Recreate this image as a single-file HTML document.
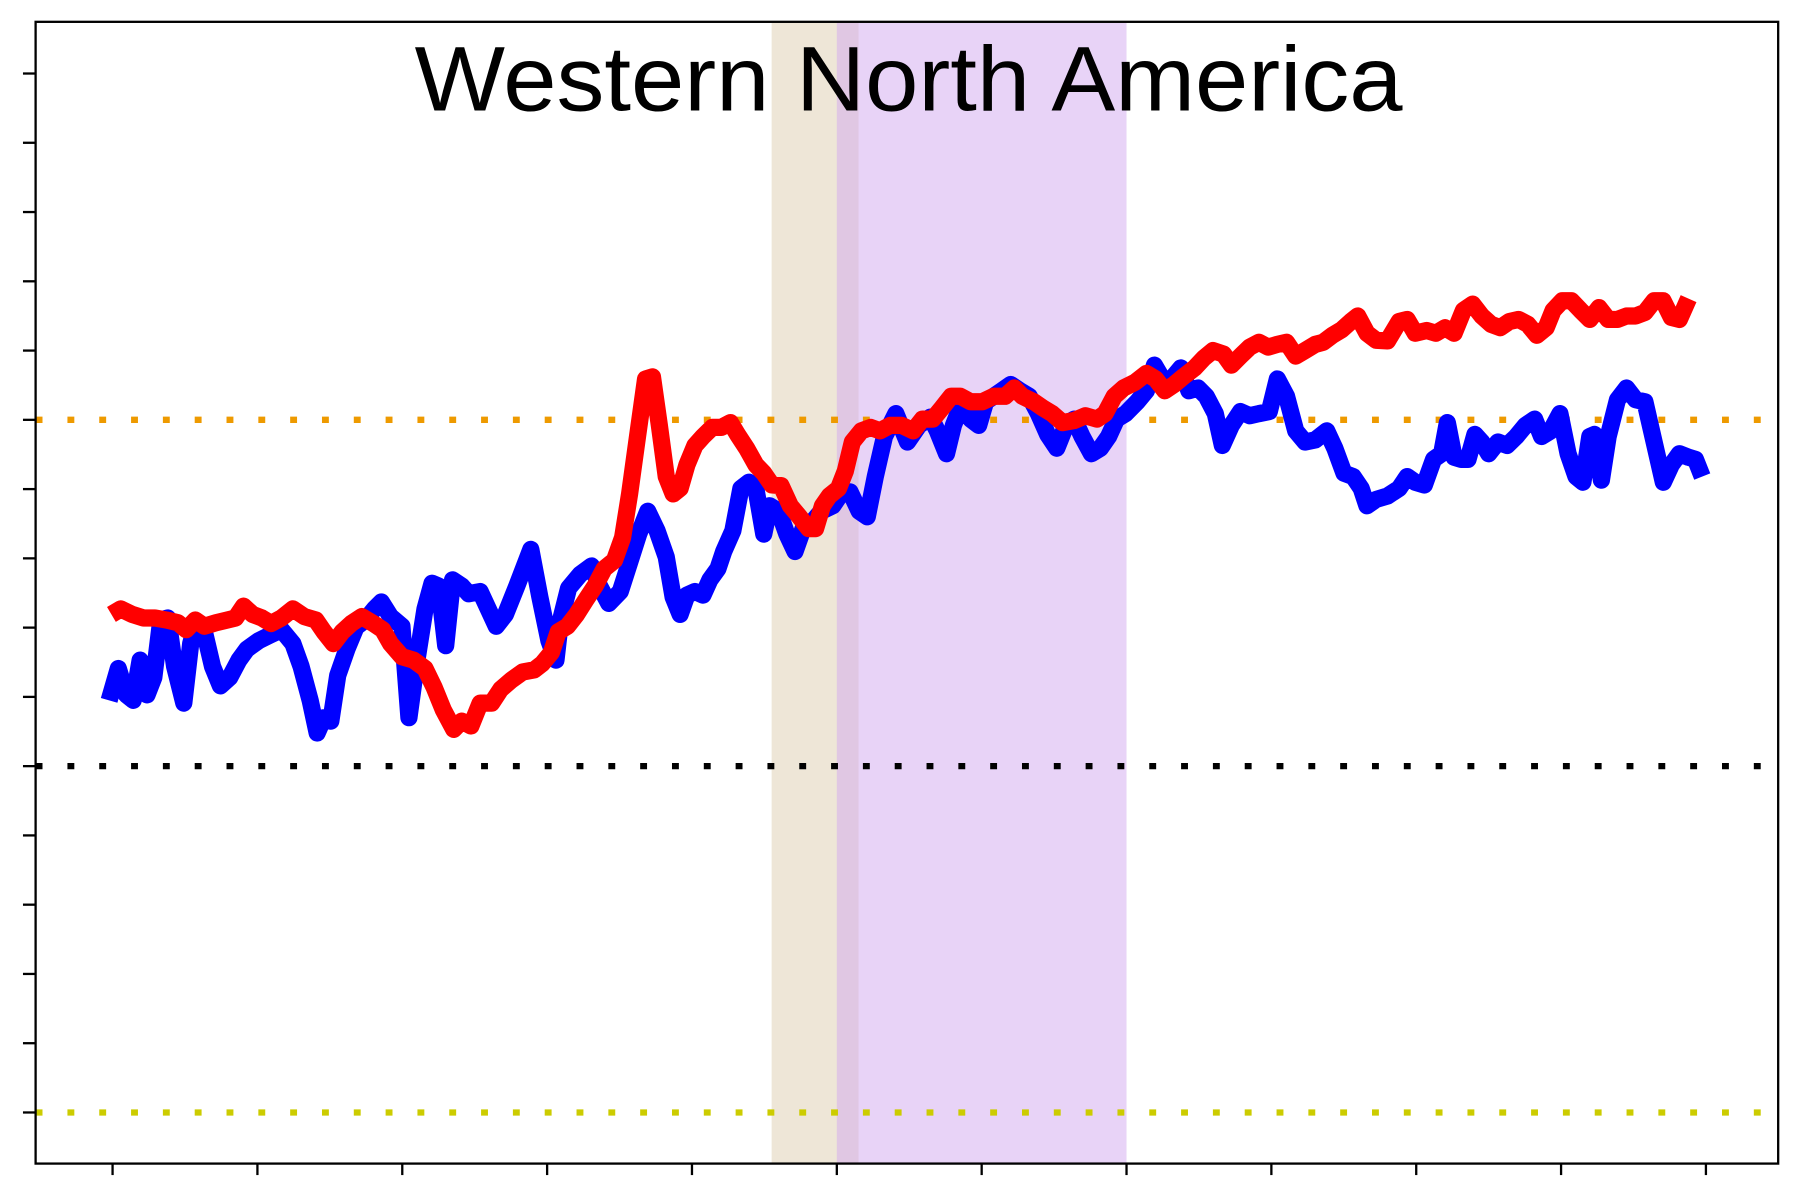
<!DOCTYPE html>
<html><head><meta charset="utf-8"><title>Western North America</title>
<style>html,body{margin:0;padding:0;background:#fff}svg{display:block}</style></head>
<body>
<svg id="chart" width="1800" height="1200" viewBox="0 0 1567 1044.7" preserveAspectRatio="none" xmlns="http://www.w3.org/2000/svg">
<rect x="0" y="0" width="1567" height="1045" fill="#fff"/>
<g id="shade"></g>
<g id="refs"></g>
<g id="series"></g>
<rect x="31" y="19" width="1517" height="994" fill="none" stroke="#000" stroke-width="2"/>
<g id="axes"></g>
<text x="791" y="96" text-anchor="middle" font-family="Liberation Sans, Arial, sans-serif" font-size="80" textLength="860" lengthAdjust="spacingAndGlyphs" fill="#000">Western North America</text>
</svg>
<script>
const xTicks = [0,10,20,30,40,50,60,70,80,90,100,110];
const yTicks = [-5,-4,-3,-2,-1,0,1,2,3,4,5,6,7,8,9,10];
const refValues = [5, 0, -5];
const refColors = ['#ee9a00', '#000000', '#cccc00'];
const shadeStart = [45.5, 50.0];
const shadeEnd = [51.5, 70.0];
const shadeColors = ['rgba(222,206,176,0.5)', 'rgba(210,168,240,0.5)'];

const blueT = [-0.24,0.40,0.95,1.43,1.90,2.38,2.85,3.33,3.81,4.28,4.92,5.39,5.71,6.34,6.90,7.45,8.09,8.72,9.28,10.07,10.86,11.66,12.45,13.01,13.64,14.12,14.59,15.07,15.54,16.18,16.81,17.45,18.08,18.56,19.19,19.98,20.46,20.94,21.57,22.05,22.52,23.00,23.47,24.11,24.58,25.38,25.93,26.49,27.12,27.91,28.87,29.50,30.13,30.61,30.93,31.48,32.28,33.07,33.62,34.26,35.05,35.69,36.32,36.95,37.59,38.22,38.70,39.18,39.65,40.21,40.76,41.24,41.79,42.19,42.82,43.38,43.93,44.41,44.96,45.36,45.99,46.55,47.11,47.74,48.29,48.93,49.72,50.28,50.91,51.55,52.10,52.66,53.29,54.08,54.88,55.67,56.46,56.94,57.57,58.05,58.68,59.24,59.79,60.27,60.83,61.38,62.01,62.65,63.28,63.92,64.55,65.19,65.82,66.38,66.93,67.57,68.20,68.76,69.31,69.94,70.74,71.37,71.93,72.48,73.12,73.75,74.31,74.94,75.50,76.13,76.61,77.24,77.87,78.51,79.14,79.86,80.41,81.05,81.68,82.32,83.03,83.82,84.38,85.01,85.65,86.20,86.60,87.23,88.02,88.82,89.37,89.93,90.56,91.20,91.75,92.15,92.62,93.10,93.58,94.05,94.53,95.00,95.64,96.27,96.91,97.54,98.18,98.65,99.29,99.92,100.48,101.03,101.51,101.98,102.30,102.78,103.25,103.89,104.52,105.15,105.79,106.42,107.06,107.61,108.17,108.80,109.28,109.75];
const blueV = [0.95,1.41,1.03,0.95,1.53,1.03,1.28,2.11,2.14,1.44,0.91,1.77,2.02,1.94,1.44,1.16,1.28,1.53,1.69,1.81,1.89,1.97,1.77,1.44,0.95,0.48,0.70,0.65,1.31,1.69,2.01,2.11,2.27,2.37,2.16,2.02,0.70,1.44,2.27,2.64,2.60,1.74,2.69,2.60,2.49,2.52,2.27,2.02,2.19,2.60,3.13,2.44,1.81,1.53,2.11,2.57,2.77,2.89,2.60,2.35,2.52,2.94,3.35,3.68,3.40,3.02,2.44,2.19,2.47,2.52,2.47,2.69,2.85,3.10,3.40,4.01,4.10,4.01,3.35,3.76,3.68,3.35,3.10,3.47,3.52,3.68,3.76,3.93,3.96,3.68,3.60,4.18,4.76,5.09,4.68,4.92,5.04,4.84,4.51,4.92,5.26,5.01,4.92,5.26,5.34,5.42,5.51,5.42,5.34,5.09,4.79,4.59,4.92,5.01,4.76,4.51,4.59,4.76,5.01,5.09,5.26,5.42,5.79,5.59,5.59,5.75,5.42,5.46,5.34,5.09,4.63,4.92,5.12,5.06,5.09,5.12,5.59,5.34,4.84,4.68,4.71,4.84,4.59,4.23,4.18,4.01,3.76,3.85,3.90,4.01,4.18,4.10,4.06,4.43,4.51,4.96,4.46,4.43,4.43,4.79,4.68,4.51,4.68,4.63,4.76,4.92,5.01,4.76,4.84,5.09,4.51,4.18,4.10,4.76,4.79,4.13,4.76,5.29,5.46,5.29,5.26,4.68,4.10,4.35,4.51,4.46,4.43,4.18];

const redT = [-0.08,0.56,1.35,2.14,2.93,3.73,4.52,5.08,5.71,6.34,7.14,7.93,8.49,9.04,9.67,10.31,10.94,11.66,12.45,13.24,14.04,14.59,15.23,15.86,16.49,17.21,18.00,18.64,19.19,19.98,20.78,21.57,22.20,22.84,23.55,24.11,24.74,25.38,26.17,26.80,27.52,28.31,29.10,29.66,30.29,30.77,31.40,32.04,32.67,33.31,33.94,34.65,35.21,35.69,36.24,36.80,37.27,37.75,38.22,38.70,39.18,39.65,40.21,40.76,41.40,42.03,42.66,43.14,43.77,44.41,44.96,45.52,46.15,46.79,47.42,48.06,48.53,49.01,49.48,50.12,50.59,51.07,51.70,52.34,52.97,53.69,54.48,55.27,55.91,56.62,57.26,57.89,58.53,59.24,60.03,60.83,61.62,62.25,62.81,63.60,64.23,64.87,65.58,66.38,67.17,67.96,68.52,69.15,69.79,70.58,71.37,72.01,72.64,73.28,73.91,74.70,75.34,75.97,76.69,77.24,77.87,78.51,79.14,79.78,80.41,81.05,81.68,82.32,83.03,83.58,84.22,84.85,85.49,85.96,86.60,87.23,88.02,88.82,89.37,89.93,90.72,91.36,91.99,92.62,93.26,93.89,94.53,95.16,95.80,96.43,97.07,97.70,98.33,98.97,99.45,100.08,100.71,101.35,101.98,102.62,103.25,103.89,104.52,105.15,105.79,106.42,107.04,107.61,108.17,108.80];
const redV = [2.19,2.27,2.19,2.14,2.14,2.11,2.07,1.97,2.11,2.02,2.07,2.11,2.14,2.31,2.19,2.14,2.06,2.14,2.27,2.16,2.11,1.94,1.77,1.94,2.06,2.16,2.06,1.97,1.77,1.58,1.53,1.41,1.14,0.81,0.53,0.65,0.58,0.91,0.91,1.11,1.24,1.36,1.39,1.48,1.64,1.94,2.02,2.19,2.40,2.60,2.85,2.97,3.30,3.93,4.76,5.59,5.62,4.92,4.18,3.93,4.01,4.35,4.63,4.76,4.89,4.89,4.96,4.79,4.59,4.35,4.23,4.06,4.05,3.76,3.60,3.43,3.43,3.76,3.90,4.01,4.26,4.68,4.84,4.89,4.84,4.92,4.92,4.84,5.01,5.01,5.17,5.34,5.34,5.26,5.26,5.34,5.34,5.46,5.34,5.26,5.17,5.09,4.96,4.99,5.06,5.01,5.09,5.34,5.46,5.54,5.67,5.59,5.42,5.51,5.62,5.75,5.89,6.00,5.95,5.79,5.92,6.05,6.12,6.05,6.09,6.12,5.92,6.00,6.09,6.12,6.22,6.30,6.42,6.50,6.25,6.15,6.14,6.42,6.45,6.25,6.29,6.25,6.33,6.25,6.58,6.67,6.50,6.38,6.33,6.42,6.45,6.38,6.22,6.33,6.58,6.72,6.72,6.58,6.45,6.62,6.45,6.45,6.50,6.50,6.55,6.72,6.72,6.48,6.45,6.75];

const NS = 'http://www.w3.org/2000/svg';
function X(t){ return 98 + t * 12.61; }
function Y(v){ return 667 - v * 60.3; }
function mk(tag, attrs, parent){
  const e = document.createElementNS(NS, tag);
  for (const k in attrs) e.setAttribute(k, attrs[k]);
  parent.appendChild(e);
  return e;
}
const shade = document.getElementById('shade');
for (let i = 0; i < shadeStart.length; i++) {
  const r = mk('rect', {x: X(shadeStart[i]), y: 19, width: X(shadeEnd[i]) - X(shadeStart[i]), height: 994, fill: shadeColors[i]}, shade);
  
  
}
const refs = document.getElementById('refs');
for (let i = 0; i < refValues.length; i++) {
  const l = mk('line', {x1: 31, x2: 1548, y1: Y(refValues[i]), y2: Y(refValues[i]), stroke: refColors[i], 'stroke-width': 5.5, 'stroke-dasharray': '6 21.7'}, refs);
  
  
}
const series = document.getElementById('series');
function drawLine(ts, vs, color, name){
  let d = '';
  for (let i = 0; i < ts.length; i++) d += (i ? 'L' : 'M') + X(ts[i]).toFixed(1) + ' ' + Y(vs[i]).toFixed(1);
  const p = mk('path', {d: d, fill: 'none', stroke: color, 'stroke-width': 15, 'stroke-linejoin': 'round', 'stroke-linecap': 'butt'}, series);
  
  
}
drawLine(blueT, blueV, '#0000ff', 'blue-series-line');
drawLine(redT, redV, '#ff0000', 'red-series-line');
const axes = document.getElementById('axes');
for (const v of yTicks) {
  const t = mk('line', {x1: 20, x2: 31, y1: Y(v), y2: Y(v), stroke: '#000', 'stroke-width': 2}, axes);
  
  
}
for (const v of xTicks) {
  const t = mk('line', {x1: X(v), x2: X(v), y1: 1013, y2: 1023, stroke: '#000', 'stroke-width': 2}, axes);
  
  
}
</script>
</body></html>
